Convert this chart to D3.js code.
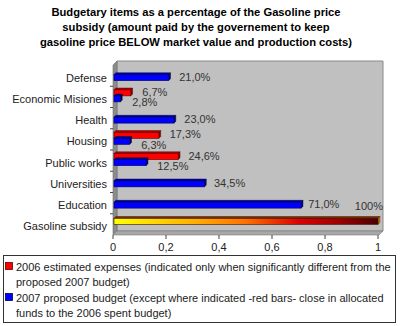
<!DOCTYPE html>
<html><head><meta charset="utf-8">
<script src="https://cdnjs.cloudflare.com/ajax/libs/d3/7.8.5/d3.min.js"></script>
<style>body{margin:0;background:#fff}svg{display:block;font-family:"Liberation Sans",Arial,sans-serif}</style>
</head><body><svg id="c" width="400" height="326"></svg>
<script>
const titleLines = ["Budgetary items as a percentage of the Gasoline price",
  "subsidy (amount paid by the governement to keep",
  "gasoline price BELOW market value and production costs)"];
const categories = ["Defense","Economic Misiones","Health","Housing","Public works","Universities","Education","Gasoline subsidy"];
const est2006 = [null,0.067,null,0.173,0.246,null,null,null];
const prop2007 = [0.21,0.028,0.23,0.063,0.125,0.345,0.71,null];
const subsidy = [null,null,null,null,null,null,null,1];
const xTicks = [0,0.2,0.4,0.6,0.8,1];
const legendLines = [
  ["2006 estimated expenses (indicated only when significantly different from the","proposed 2007 budget)"],
  ["2007 proposed budget (except where indicated -red bars- close in allocated","funds to the 2006 spent budget)"]];

const svg = d3.select("#c");
const X0=113, X1=378, Ytop=65, Ybot=235, D=4;
const x = d3.scaleLinear().domain([0,1]).range([X0,X1]);
const y = d3.scaleBand().domain(categories).range([67,237]);
const sub = d3.scaleBand().domain(["a","b"]).range([-9,3]);
const labelX = d3.scaleLinear().domain([0,1]).range([125,383]);
const fmt = v => v===1 ? "100%" : (v*100).toFixed(1).replace(".",",")+"%";

// title
svg.append("g").selectAll("text").data(titleLines).join("text")
  .attr("x",196).attr("y",(d,i)=>16+i*15).attr("text-anchor","middle")
  .attr("font-size",11.2).attr("font-weight","bold").text(d=>d);

// walls
const wall = svg.append("g");
wall.append("polygon").attr("points",`${X0+D},${Ytop-D} ${X1+D+1},${Ytop-D} ${X1+D+1},${Ybot-D} ${X0+D},${Ybot-D}`)
  .attr("fill","#c0c0c0").attr("stroke","#8a8a8a").attr("stroke-width",1);
wall.append("polygon").attr("points",`${X0},${Ytop} ${X0+D},${Ytop-D} ${X0+D},${Ybot-D} ${X0},${Ybot}`)
  .attr("fill","#8c8c8c").attr("stroke","#6e6e6e").attr("stroke-width",0.6);
wall.append("polygon").attr("points",`${X0},${Ybot} ${X0+D},${Ybot-D} ${X1+D+1},${Ybot-D} ${X1+1},${Ybot}`)
  .attr("fill","#a8a8a8").attr("stroke","#7a7a7a").attr("stroke-width",0.6);

// x axis
const xa = svg.append("g");
xa.selectAll("line").data(xTicks).join("line")
  .attr("x1",d=>x(d)).attr("x2",d=>x(d)).attr("y1",Ybot).attr("y2",Ybot+4).attr("stroke","#444");
xa.selectAll("text").data(xTicks).join("text")
  .attr("x",d=>x(d)).attr("y",251).attr("text-anchor","middle").attr("font-size",11).attr("fill","#222")
  .text(d=>d===0||d===1?String(d):String(d).replace(".",","));

// y axis ticks and labels
const ya = svg.append("g");
const bounds = categories.slice(1).map(c=>y(c));
ya.selectAll("line").data(bounds).join("line")
  .attr("x1",X0-3).attr("x2",X0).attr("y1",d=>d-2).attr("y2",d=>d-2).attr("stroke","#444");
ya.selectAll("text").data(categories).join("text")
  .attr("x",X0-6).attr("y",c=>y(c)+y.bandwidth()/2+4).attr("text-anchor","end")
  .attr("font-size",11).attr("fill","#222").text(c=>c);

// gradient
const defs = svg.append("defs");
const g = defs.append("linearGradient").attr("id","gas").attr("x1","0").attr("x2","1").attr("y1","0").attr("y2","0");
[[0,"#ffff00"],[0.3,"#ffb000"],[0.5,"#ff7000"],[0.7,"#e00000"],[0.88,"#900000"],[1,"#4a0000"]]
  .forEach(s=>g.append("stop").attr("offset",s[0]).attr("stop-color",s[1]));

function bar(gp, v, cy, front, top, side, edge){
  const xa0 = X0+1, xb = x(v), h = 6, d = 1.8;
  const yt = cy-3;
  gp.append("polygon").attr("points",`${xa0},${yt} ${xa0+d},${yt-d} ${xb+d},${yt-d} ${xb},${yt}`)
    .attr("fill",top).attr("stroke",edge).attr("stroke-width",0.5);
  gp.append("polygon").attr("points",`${xb},${yt} ${xb+d},${yt-d} ${xb+d},${yt+h-d} ${xb},${yt+h}`)
    .attr("fill",side).attr("stroke",edge).attr("stroke-width",0.5);
  gp.append("rect").attr("x",xa0).attr("y",yt).attr("width",xb-xa0).attr("height",h)
    .attr("fill",front).attr("stroke",edge).attr("stroke-width",0.6);
}

const bars = svg.append("g");
const labs = svg.append("g").attr("font-size",11).attr("fill","#333");
categories.forEach((c,i)=>{
  const cy = y(c)+y.bandwidth()/2;
  const hasRed = est2006[i]!=null;
  if(hasRed){
    const ry = cy+sub("a")+sub.bandwidth()/2;
    bar(bars, est2006[i], ry, "#ff0000", "#b00000", "#800000", "#600000");
    labs.append("text").attr("x",labelX(est2006[i])).attr("y",cy-7+4).text(fmt(est2006[i]));
  }
  if(prop2007[i]!=null){
    const by = cy+sub("b")+sub.bandwidth()/2;
    bar(bars, prop2007[i], by, "#0000ff", "#0000a0", "#000070", "#000050");
    labs.append("text").attr("x",labelX(prop2007[i])).attr("y",cy+(hasRed?3.5:-1)+4).text(fmt(prop2007[i]));
  }
  if(subsidy[i]!=null){
    const gy = cy+sub("a")+sub.bandwidth()/2+1;
    bar(bars, subsidy[i], gy, "url(#gas)", "#7a3000", "#ff8c00", "#3a1000");
    labs.append("text").attr("x",x(subsidy[i])+5).attr("y",cy-20+4).attr("text-anchor","end").text(fmt(subsidy[i]));
  }
});

// legend
const lg = svg.append("g");
lg.append("rect").attr("x",3.5).attr("y",255.5).attr("width",392).attr("height",67)
  .attr("fill","#fff").attr("stroke","#333").attr("stroke-width",1);
const lcol = ["#ff0000","#0000ff"], lcolEdge=["#600000","#000050"];
legendLines.forEach((ls,k)=>{
  const y0 = 267 + k*31;
  lg.append("rect").attr("x",5.5).attr("y",y0-4.5).attr("width",7).attr("height",7)
    .attr("fill",lcol[k]).attr("stroke",lcolEdge[k]).attr("stroke-width",0.8);
  ls.forEach((t,j)=>lg.append("text").attr("x",16).attr("y",y0+4+j*15).attr("font-size",11).attr("fill","#222").text(t));
});
</script></body></html>
